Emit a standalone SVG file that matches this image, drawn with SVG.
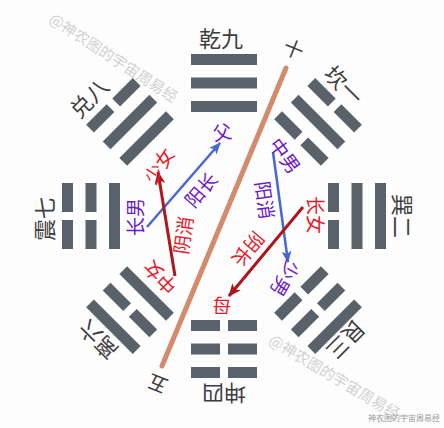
<svg xmlns="http://www.w3.org/2000/svg" xmlns:xlink="http://www.w3.org/1999/xlink" width="444" height="428" viewBox="0 0 444 428">
<style>
.bar{fill:#59626a}
.tri{font-family:"Noto Sans CJK SC","Noto Sans",sans-serif;font-size:22px;fill:#3d3d3d;text-anchor:middle;dominant-baseline:central}
.lab{font-family:"Noto Sans CJK SC","Noto Sans",sans-serif;font-size:19px;text-anchor:middle;dominant-baseline:central}
.pur{fill:#6c18c9}
.red{fill:#e81c2c}
.wm{font-family:"Noto Sans CJK SC",sans-serif;font-size:15px;fill:#d2d2d2;text-anchor:middle;dominant-baseline:central}
.blue{stroke:#4668d0;stroke-width:2.5;fill:none}
.dred{stroke:#ad161c;stroke-width:3;fill:none}
</style>
<defs>
<rect id="yang" class="bar" x="-33" y="-5.5" width="66" height="11"/>
<g id="yin" class="bar"><rect x="-33" y="-5.5" width="29" height="11"/><rect x="4" y="-5.5" width="29" height="11"/></g>
<marker id="ab" viewBox="0 0 12 10" refX="11" refY="5" markerWidth="12" markerHeight="10" markerUnits="userSpaceOnUse" orient="auto"><path d="M0,0 L12,5 L0,10 L3,5 Z" fill="#4668d0"/></marker>
<marker id="ar" viewBox="0 0 12 10" refX="11" refY="5" markerWidth="13" markerHeight="11" markerUnits="userSpaceOnUse" orient="auto"><path d="M0,0 L12,5 L0,10 L3,5 Z" fill="#ad161c"/></marker>
</defs>
<rect width="444" height="428" fill="#fdfdfd"/>
<g id="watermark">
<text class="wm" transform="translate(114,57) rotate(33)">@神农图的宇宙周易经</text>
<text class="wm" transform="translate(335,376) rotate(31)">@神农图的宇宙周易经</text>
<text x="404" y="417" style="font-family:'Noto Sans CJK SC',sans-serif;font-size:8px;fill:#9a9a9a;text-anchor:middle;dominant-baseline:central">神农图的宇宙周易经</text>
</g>
<g id="qian" transform="translate(224,216) rotate(0)"><use xlink:href="#yang" y="-109.5"/><use xlink:href="#yang" y="-133"/><use xlink:href="#yang" y="-156.5"/></g>
<g id="kan" transform="translate(224,216) rotate(45)"><use xlink:href="#yin" y="-109.5"/><use xlink:href="#yang" y="-133"/><use xlink:href="#yin" y="-156.5"/></g>
<g id="xun" transform="translate(224,216) rotate(90)"><use xlink:href="#yin" y="-109.5"/><use xlink:href="#yang" y="-133"/><use xlink:href="#yang" y="-156.5"/></g>
<g id="gen" transform="translate(224,216) rotate(135)"><use xlink:href="#yin" y="-109.5"/><use xlink:href="#yin" y="-133"/><use xlink:href="#yang" y="-156.5"/></g>
<g id="kun" transform="translate(224,216) rotate(180)"><use xlink:href="#yin" y="-109.5"/><use xlink:href="#yin" y="-133"/><use xlink:href="#yin" y="-156.5"/></g>
<g id="li" transform="translate(224,216) rotate(225)"><use xlink:href="#yang" y="-109.5"/><use xlink:href="#yin" y="-133"/><use xlink:href="#yang" y="-156.5"/></g>
<g id="zhen" transform="translate(224,216) rotate(270)"><use xlink:href="#yang" y="-109.5"/><use xlink:href="#yin" y="-133"/><use xlink:href="#yin" y="-156.5"/></g>
<g id="dui" transform="translate(224,216) rotate(315)"><use xlink:href="#yang" y="-109.5"/><use xlink:href="#yang" y="-133"/><use xlink:href="#yin" y="-156.5"/></g>
<g id="trigram-labels">
<text class="tri" transform="translate(221,37)">乾九</text>
<text class="tri" transform="translate(345,84) rotate(45)">坎一</text>
<text class="tri" transform="translate(404,216) rotate(90)">巽二</text>
<text class="tri" transform="translate(347,341) rotate(135)">艮三</text>
<text class="tri" transform="translate(224,395) rotate(180)">坤四</text>
<text class="tri" transform="translate(97,341) rotate(-135)">离六</text>
<text class="tri" transform="translate(43,219) rotate(-90)">震七</text>
<text class="tri" transform="translate(88,97) rotate(-45)">兑八</text>
<text class="tri" style="font-size:20px" transform="translate(294,48) rotate(22)">十</text>
<text class="tri" style="font-size:20px" transform="translate(157,385) rotate(202)">五</text>
</g>
<g id="connectors">
<line x1="286" y1="68" x2="162" y2="366" stroke="#d38a6d" stroke-width="5" stroke-linecap="round"/>
<line class="blue" x1="147" y1="227" x2="220" y2="143" marker-end="url(#ab)"/>
<line class="dred" x1="175" y1="276" x2="158" y2="172" marker-end="url(#ar)"/>
<line class="blue" x1="273" y1="152" x2="288" y2="262" marker-end="url(#ab)"/>
<line class="dred" x1="303" y1="207" x2="229" y2="296" marker-end="url(#ar)"/>
</g>
<g id="labels">
<text class="lab pur" transform="translate(134,217) rotate(-90)">长男</text>
<text class="lab red" transform="translate(158,165) rotate(-57)">少女</text>
<text class="lab pur" transform="translate(200,189) rotate(-49)">阳长</text>
<text class="lab pur" transform="translate(222,131) rotate(-10)">父</text>
<text class="lab red" transform="translate(182,235) rotate(-82)">阴消</text>
<text class="lab red" transform="translate(159,278) rotate(-135)">中女</text>
<text class="lab pur" transform="translate(286,155) rotate(54)">中男</text>
<text class="lab pur" transform="translate(266,200) rotate(82)">阳消</text>
<text class="lab red" transform="translate(316,215) rotate(90)">长女</text>
<text class="lab red" transform="translate(249,250) rotate(130)">阴长</text>
<text class="lab pur" transform="translate(286,279) rotate(120)">少男</text>
<text class="lab red" transform="translate(222,306) rotate(180)">母</text>
</g>
</svg>
